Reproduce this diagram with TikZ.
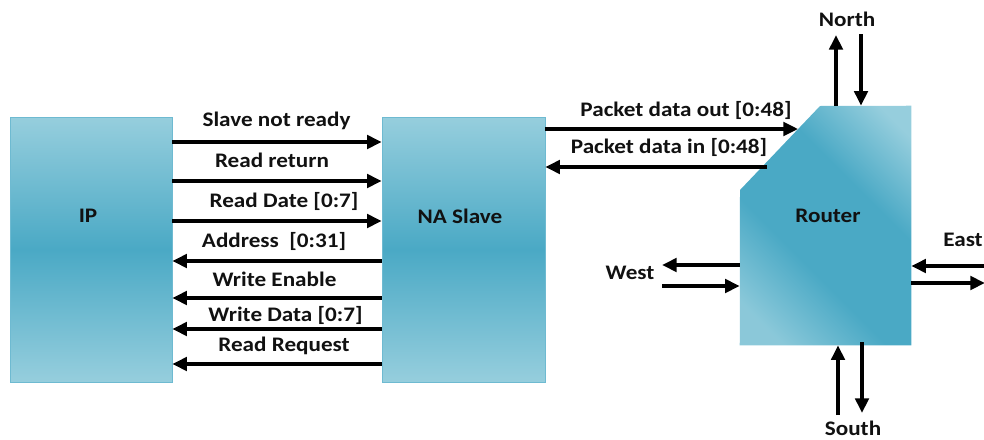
\documentclass[tikz,border=0pt]{standalone}
\usepackage{fontspec}
\setmainfont{Carlito}[FakeStretch=1.12]
\usetikzlibrary{arrows.meta,calc}
\definecolor{boxlight}{HTML}{96CEDD}
\definecolor{boxdark}{HTML}{4AA9C5}
\definecolor{txt}{HTML}{111111}
\pgfdeclareverticalshading{routershade}{100bp}{color(0bp)=(boxlight!85!boxdark); color(22bp)=(boxlight!85!boxdark); color(40bp)=(boxdark); color(62bp)=(boxdark); color(80bp)=(boxlight); color(100bp)=(boxlight)}
\begin{document}
\begin{tikzpicture}[x=0.75pt,y=-0.75pt,
  sig/.style={line width=3pt,-{Triangle[length=11pt,width=10pt]}},
  lbl/.style={font=\fontsize{15.5}{18}\selectfont\bfseries,text=txt,inner sep=0pt},
  blockbox/.style={top color=boxlight,bottom color=boxlight,middle color=boxdark,draw=boxdark!80!white,line width=0.4pt,inner sep=0pt},
]
\useasboundingbox (0,0) rectangle (984,439);

% blocks
\node[blockbox,minimum width=121.5pt,minimum height=198.75pt] (ip) at (91,249.5) {};
\node[blockbox,minimum width=122.25pt,minimum height=198.75pt] (na) at (463.5,249.5) {};
\node[minimum width=128.25pt,minimum height=179.25pt,inner sep=0pt] (router) at (825.5,225.5) {};
\coordinate (rc1) at (740,190);
\coordinate (rc2) at (820,106);
\shade[shading=routershade,shading angle=-45]
  (rc1) -- (rc2) -- (router.north east) -- (router.south east) -- (router.south west) -- cycle;

\node[lbl] (iplbl) at (88,216) {IP};
\node[lbl] (nalbl) at (460,216) {NA Slave};
\node[lbl] (rtlbl) at (828,216) {Router};

% IP <-> NA Slave
\draw[sig] (ip.east |- 0,142) -- (na.west |- 0,142);
\draw[sig] (ip.east |- 0,181) -- (na.west |- 0,181);
\draw[sig] (ip.east |- 0,221) -- (na.west |- 0,221);
\draw[sig] (na.west |- 0,261) -- (ip.east |- 0,261);
\draw[sig] (na.west |- 0,298) -- (ip.east |- 0,298);
\draw[sig] (na.west |- 0,329) -- (ip.east |- 0,329);
\draw[sig] (na.west |- 0,364) -- (ip.east |- 0,364);

\node[lbl] (l1) at (276.5,121) {Slave not ready};
\node[lbl] (l2) at (272,160) {Read return};
\node[lbl] (l3) at (284,201) {Read Date [0:7]};
\node[lbl] (l4) at (274,241) {Address~~[0:31]};
\node[lbl] (l5) at (274.5,279) {Write Enable};
\node[lbl] (l6) at (285.5,315) {Write Data [0:7]};
\node[lbl] (l7) at (284,346) {Read Request};

% NA Slave <-> Router
\coordinate (pout) at ($(rc1)!{61/84}!(rc2)$);
\coordinate (pin) at (767,167);
\draw[sig] (na.east |- pout) -- (pout);
\draw[sig] (pin) -- (na.east |- pin);
\node[lbl] (l8) at (686,110) {Packet data out [0:48]};
\node[lbl] (l9) at (669,147) {Packet data in [0:48]};

% North
\coordinate (nup) at (836,35);
\coordinate (ndn) at (861,34);
\draw[sig] (router.north -| nup) -- (nup);
\draw[sig] (ndn) -- (router.north -| ndn);
\node[lbl] (north) at (847,19) {North};

% South
\coordinate (sup) at (838,415);
\coordinate (sdn) at (862,413);
\draw[sig] (sup) -- (router.south -| sup);
\draw[sig] ($(router.south -| sdn)+(0,-3)$) -- (sdn);
\node[lbl] (south) at (853,428) {South};

% West
\coordinate (wout) at (662,265);
\coordinate (win) at (662,286);
\draw[sig] (router.west |- wout) -- (wout);
\draw[sig] (win) -- (router.west |- win);
\node[lbl] (west) at (630,273) {West};

% East
\coordinate (ein) at (990,266);
\coordinate (eout) at (985,283);
\draw[sig] (ein) -- (router.east |- ein);
\draw[sig] (router.east |- eout) -- (eout);
\node[lbl,anchor=east] (east) at (983,240) {East};
\end{tikzpicture}
\end{document}
